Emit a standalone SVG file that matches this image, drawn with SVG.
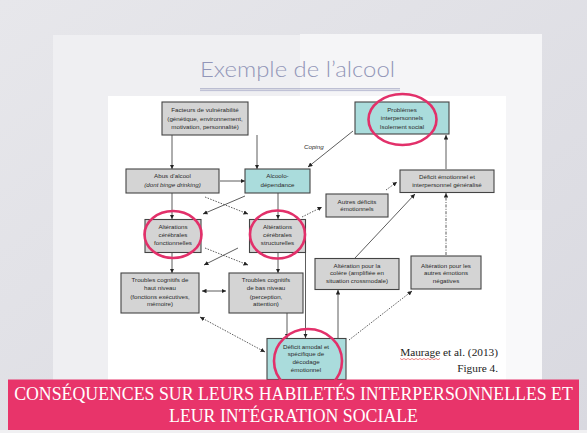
<svg xmlns="http://www.w3.org/2000/svg" width="587" height="433" viewBox="0 0 587 433">
<defs>
<linearGradient id="bg" x1="0" y1="0" x2="1" y2="1">
<stop offset="0" stop-color="#e7e7eb"/>
<stop offset="1" stop-color="#d9d9e0"/>
</linearGradient>
<marker id="ah" viewBox="0 0 10 10" refX="10" refY="5" markerWidth="4.5" markerHeight="4.5" orient="auto-start-reverse" markerUnits="userSpaceOnUse">
<path d="M0,0 L10,5 L0,10 z" fill="#222"/>
</marker>
<style>
.box{fill:#d4d4d4;stroke:#444;stroke-width:1.1}
.teal{fill:#aadcdc;stroke:#444;stroke-width:1.1}
.t{font-family:"Liberation Sans",Arial,sans-serif;font-size:6.2px;fill:#2a2a2a;text-anchor:middle}
.ring{fill:none;stroke:#e2306a;stroke-width:2.6}
.c{fill:none;stroke:#333;stroke-width:0.8}
.solid{marker-end:url(#ah)}
.dot{stroke-dasharray:1.5 1.3;marker-end:url(#ah)}
.dd{stroke-dasharray:3 1.4 1 1.4;marker-end:url(#ah)}
.both{marker-start:url(#ah);marker-end:url(#ah)}
.ban{font-family:"Liberation Serif","Times New Roman",serif;font-size:17.8px;fill:#ffffff;text-anchor:middle}
</style>
</defs>
<rect x="0" y="0" width="587" height="433" fill="url(#bg)"/>
<!-- paper -->
<rect x="53" y="35" width="247" height="398" fill="#efeff2"/>
<rect x="300" y="34" width="242" height="399" fill="#f5f5f7"/>
<rect x="506" y="210" width="36" height="170" fill="#f9f9fa"/>
<!-- title -->
<text x="200" y="77" font-family="Lato,'Open Sans',sans-serif" font-size="22" font-weight="300" fill="#9296b8" textLength="195" lengthAdjust="spacingAndGlyphs">Exemple de l’alcool</text>
<line x1="200" y1="88.8" x2="400" y2="88.8" stroke="#9da1bf" stroke-width="0.9"/>
<line x1="200" y1="90.6" x2="400" y2="90.6" stroke="#b4b7cf" stroke-width="0.9"/>
<!-- diagram area -->
<rect x="108" y="96" width="398" height="284" fill="#ffffff"/>

<g id="connectors">
<line class="c solid" x1="172" y1="135" x2="172" y2="169"/>
<line class="c solid" x1="257" y1="135" x2="257" y2="169"/>
<line class="c solid" x1="220" y1="181" x2="245" y2="181"/>
<line class="c solid" x1="353" y1="131" x2="308" y2="167"/>
<line class="c solid" x1="172" y1="193" x2="172" y2="219"/>
<line class="c solid" x1="278" y1="193" x2="278" y2="219"/>
<line class="c solid" x1="245" y1="196" x2="203" y2="214"/>
<line class="c dot" x1="205" y1="197" x2="248" y2="214"/>
<line class="c solid" x1="172" y1="252" x2="172" y2="273"/>
<line class="c solid" x1="278" y1="252" x2="278" y2="273"/>
<line class="c solid" x1="238" y1="248" x2="204" y2="265"/>
<line class="c dot" x1="205" y1="248" x2="248" y2="265"/>
<line class="c both" x1="202" y1="291" x2="226" y2="291"/>
<line class="c dot" x1="302" y1="217" x2="322" y2="207"/>
<line class="c dot" x1="386" y1="190" x2="397" y2="182"/>
<line class="c solid" x1="446" y1="169" x2="446" y2="135"/>
<line class="c dd" x1="446" y1="255" x2="446" y2="193"/>
<line class="c solid" x1="355" y1="258" x2="415" y2="194"/>
<line class="c solid" x1="338" y1="338" x2="338" y2="290"/>
<line class="c dot" x1="349" y1="340" x2="412" y2="291"/>
<line class="c solid" x1="287" y1="313" x2="287" y2="338"/>
<line class="c solid" x1="305.5" y1="252" x2="305.5" y2="338"/>
<line class="c dot both" x1="200" y1="317" x2="265" y2="352"/>
<text x="304" y="149" font-family="Liberation Sans,Arial,sans-serif" font-size="6.2" font-style="italic" fill="#2a2a2a">Coping</text>
</g>

<g id="facteurs">
<rect class="box" x="162" y="102" width="86" height="33"/>
<text class="t" x="205" y="112">Facteurs de vulnérabilité</text>
<text class="t" x="205" y="120.5">(génétique, environnement,</text>
<text class="t" x="205" y="129">motivation, personnalité)</text>
</g>
<g id="problemes">
<rect class="teal" x="355" y="102" width="94" height="32"/>
<text class="t" x="402" y="112">Problèmes</text>
<text class="t" x="402" y="120.3">interpersonnels</text>
<text class="t" x="402" y="128.7">Isolement social</text>
<ellipse class="ring" cx="402.5" cy="119.5" rx="34" ry="25.5"/>
</g>
<g id="abus">
<rect class="box" x="126" y="169" width="93" height="24"/>
<text class="t" x="172.5" y="178">Abus d’alcool</text>
<text class="t" x="172.5" y="186.5" font-style="italic">(dont binge drinking)</text>
</g>
<g id="alcoolo">
<rect class="teal" x="245" y="169" width="65" height="24"/>
<text class="t" x="277.5" y="178">Alcoolo-</text>
<text class="t" x="277.5" y="186.5">dépendance</text>
</g>
<g id="deficit-emotionnel">
<rect class="box" x="400" y="170" width="94" height="22.5"/>
<text class="t" x="447" y="178.7">Déficit émotionnel et</text>
<text class="t" x="447" y="187">interpersonnel généralisé</text>
</g>
<g id="autres-deficits">
<rect class="box" x="326" y="194" width="62" height="23"/>
<text class="t" x="357" y="203.7">Autres déficits</text>
<text class="t" x="357" y="211.3">émotionnels</text>
</g>
<g id="fonctionnelles">
<rect class="box" x="145" y="219.5" width="56" height="33"/>
<text class="t" x="173" y="229.3">Altérations</text>
<text class="t" x="173" y="237">cérébrales</text>
<text class="t" x="173" y="245.3">fonctionnelles</text>
<ellipse class="ring" cx="173" cy="234.5" rx="28.5" ry="23.5"/>
</g>
<g id="structurelles">
<rect class="box" x="249.5" y="219.5" width="56" height="33"/>
<text class="t" x="277.5" y="229.3">Altérations</text>
<text class="t" x="277.5" y="237">cérébrales</text>
<text class="t" x="277.5" y="245.3">structurelles</text>
<ellipse class="ring" cx="277.5" cy="234.5" rx="27.5" ry="24"/>
</g>
<g id="troubles-haut">
<rect class="box" x="121" y="273" width="78" height="40"/>
<text class="t" x="160" y="282">Troubles cognitifs de</text>
<text class="t" x="160" y="290.3">haut niveau</text>
<text class="t" x="160" y="298.7">(fonctions exécutives,</text>
<text class="t" x="160" y="306.3">mémoire)</text>
</g>
<g id="troubles-bas">
<rect class="box" x="229" y="273" width="74" height="40"/>
<text class="t" x="266" y="282">Troubles cognitifs</text>
<text class="t" x="266" y="290.3">de bas niveau</text>
<text class="t" x="266" y="298.7">(perception,</text>
<text class="t" x="266" y="306.3">attention)</text>
</g>
<g id="colere">
<rect class="box" x="315" y="258.5" width="84" height="31"/>
<text class="t" x="357" y="267.7">Altération pour la</text>
<text class="t" x="357" y="275.3">colère (amplifiée en</text>
<text class="t" x="357" y="282.7">situation crossmodale)</text>
</g>
<g id="autres-emotions">
<rect class="box" x="411" y="256" width="70" height="33"/>
<text class="t" x="446" y="267.7">Altération pour les</text>
<text class="t" x="446" y="275.3">autres émotions</text>
<text class="t" x="446" y="282.7">négatives</text>
</g>
<g id="deficit-amodal">
<rect class="teal" x="267" y="338.5" width="79" height="41"/>
<text class="t" x="306" y="348.7">Déficit amodal et</text>
<text class="t" x="306" y="356">spécifique de</text>
<text class="t" x="306" y="363.7">décodage</text>
<text class="t" x="306" y="372">émotionnel</text>
<ellipse class="ring" cx="308" cy="361" rx="34" ry="32"/>
</g>

<g id="source">
<text x="498" y="356" font-family="Liberation Serif,'Times New Roman',serif" font-size="11.3" fill="#222" text-anchor="end">Maurage et al. (2013)</text>
<path d="M400,358.5 l2,1.2 l2,-1.2 l2,1.2 l2,-1.2 l2,1.2 l2,-1.2 l2,1.2 l2,-1.2 l2,1.2 l2,-1.2 l2,1.2 l2,-1.2 l2,1.2 l2,-1.2 l2,1.2 l2,-1.2 l2,1.2 l2,-1.2 l2,1.2 l2,-1.2" fill="none" stroke="#e03030" stroke-width="0.6"/>
<text x="498" y="372" font-family="Liberation Serif,'Times New Roman',serif" font-size="11.3" fill="#222" text-anchor="end">Figure 4.</text>
</g>

<g id="banner">
<rect x="0" y="430" width="587" height="3" fill="#f0f0f2"/>
<rect x="8" y="379.5" width="571" height="50.5" fill="#e8346a"/>
<text class="ban" x="293.5" y="400">CONSÉQUENCES SUR LEURS HABILETÉS INTERPERSONNELLES ET</text>
<text class="ban" x="293.5" y="422">LEUR INTÉGRATION SOCIALE</text>
</g>
</svg>
